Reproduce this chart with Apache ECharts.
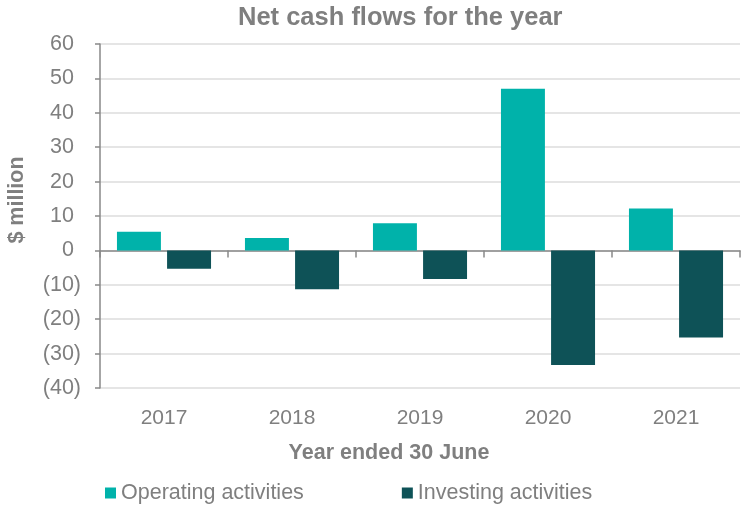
<!DOCTYPE html>
<html>
<head>
<meta charset="utf-8">
<script src="https://cdn.jsdelivr.net/npm/echarts@6/dist/echarts.min.js"></script>
<style>
  html, body { margin: 0; padding: 0; background: #fff; }
  #chart { width: 741px; height: 509px; }
</style>
</head>
<body>
<div id="chart"></div>
<script>
var years = ['2017', '2018', '2019', '2020', '2021'];
var operating = [5.4, 3.6, 7.9, 47.0, 12.2];
var investing = [-5.3, -11.3, -8.3, -33.3, -25.3];

var textGrey = '#7f7f7f';
var font = 'Liberation Sans, Arial, sans-serif';

var myChart = echarts.init(document.getElementById('chart'));
var option = {
    backgroundColor: '#fff',
    animation: false,
    title: {
        text: 'Net cash flows for the year',
        left: 233,
        top: 0,
        textStyle: { color: textGrey, fontSize: 25.5, fontWeight: 'bold', fontFamily: font }
    },
    legend: {
        left: 100,
        top: 477,
        itemWidth: 11,
        itemHeight: 11,
        itemGap: 98,
        icon: 'rect',
        textStyle: { color: textGrey, fontSize: 21.5, fontFamily: font },
        data: ['Operating activities', 'Investing activities']
    },
    grid: { left: 100, right: 1, top: 44, bottom: 121, containLabel: false, outerBoundsMode: 'none' },
    xAxis: [
        {
            type: 'category',
            data: years,
            position: 'bottom',
            axisLine: { show: false, onZero: false },
            axisTick: { show: false },
            axisLabel: { color: textGrey, fontSize: 21, fontFamily: font, margin: 20 },
            name: 'Year ended 30 June',
            nameLocation: 'middle',
            nameGap: 54,
            nameTextStyle: { color: textGrey, fontSize: 21.5, fontWeight: 'bold', fontFamily: font, padding: [0, 62, 0, 0] }
        },
        {
            type: 'category',
            data: years,
            position: 'bottom',
            axisLine: { show: true, onZero: true, lineStyle: { color: '#898989', width: 1.5 } },
            axisTick: { show: true, length: 7, lineStyle: { color: '#898989', width: 1.5 } },
            axisLabel: { show: false }
        }
    ],
    yAxis: {
        type: 'value',
        min: -40,
        max: 60,
        interval: 10,
        axisLine: { show: true, lineStyle: { color: '#898989', width: 1.5 } },
        axisTick: { show: true, length: 5, lineStyle: { color: '#898989', width: 1.5 } },
        splitLine: { lineStyle: { color: '#dcdcdc', width: 1.5 } },
        axisLabel: {
            color: textGrey, fontSize: 21.5, fontFamily: font, margin: 19,
            formatter: function (v) {
                return v < 0 ? '(' + Math.abs(v) + ')' : '{p|' + v + '}';
            },
            rich: { p: { color: textGrey, fontSize: 21.5, fontFamily: font, padding: [0, 7, 0, 0] } }
        },
        name: '$ million',
        nameLocation: 'middle',
        nameGap: 72,
        nameTextStyle: { color: textGrey, fontSize: 21.5, fontWeight: 'bold', fontFamily: font, padding: [0, 0, 0, 32] }
    },
    series: [
        {
            name: 'Operating activities',
            type: 'bar',
            xAxisIndex: 0,
            data: operating,
            barGap: '14%',
            barCategoryGap: '26.5%',
            itemStyle: { color: '#00b2aa' }
        },
        {
            name: 'Investing activities',
            type: 'bar',
            xAxisIndex: 0,
            data: investing,
            barGap: '14%',
            barCategoryGap: '26.5%',
            itemStyle: { color: '#0e5257' }
        }
    ]
};
myChart.setOption(option);
</script>
</body>
</html>
